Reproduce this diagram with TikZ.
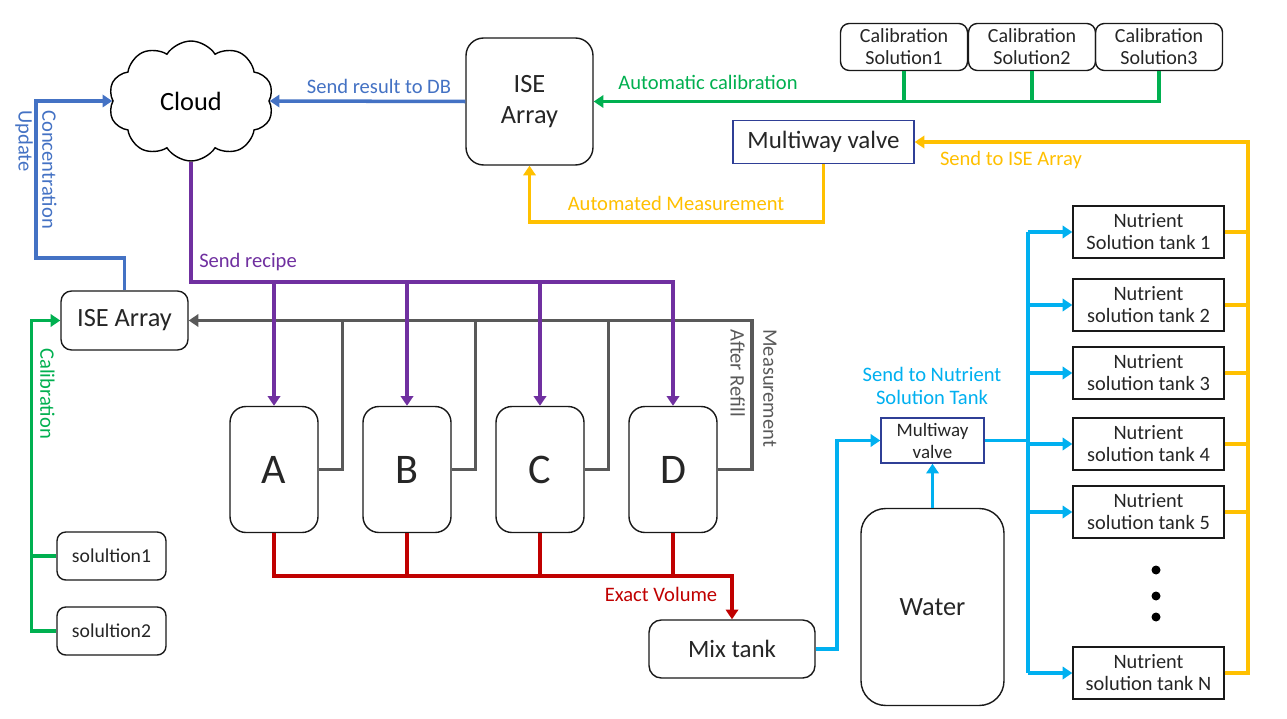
\documentclass[tikz,border=0pt]{standalone}
\usepackage{fontspec}
\setmainfont{Carlito}
\usetikzlibrary{arrows.meta,shapes.symbols}
\definecolor{lnblue}{HTML}{4472C4}
\definecolor{lngreen}{HTML}{00B050}
\definecolor{lnyellow}{HTML}{FFC000}
\definecolor{lnpurple}{HTML}{7030A0}
\definecolor{lngray}{HTML}{595959}
\definecolor{lnred}{HTML}{C00000}
\definecolor{lncyan}{HTML}{00B0F0}
\definecolor{valveblue}{HTML}{2F3F96}
\definecolor{txt}{HTML}{262626}

\begin{document}
\begin{tikzpicture}
  [x=0.02cm,y=-0.02cm,
   box/.style={draw=black!90,line width=0.8pt,rounded corners=5pt,align=center,text=txt,inner sep=1pt},
   tank/.style={draw=black!90,line width=0.8pt,align=center,text=txt,inner sep=1pt,
     minimum width=3.02cm,minimum height=1.04cm,font=\fontsize{11.6}{12.5}\selectfont},
   valve/.style={draw=valveblue,line width=0.8pt,align=center,text=txt,inner sep=1pt},
   pipe/.style={line width=2pt},
   flow/.style={pipe,-{Triangle[length=5.5pt,width=7pt]}},
   lbl/.style={font=\fontsize{11.7}{13.5}\selectfont,inner sep=0pt}]
  \useasboundingbox (0,0) rectangle (1287,719);
  \fill[white] (0,0) rectangle (1287,719);

  % cloud and top row
  \node[cloud,draw=black,line width=0.8pt,cloud puffs=10,cloud puff arc=115,aspect=1.5,
    minimum width=3.3cm,minimum height=2.4cm,font=\fontsize{15}{18}\selectfont] (cloud) at (191,101) {Cloud};
  \node[box,rounded corners=10pt,minimum width=2.54cm,minimum height=2.54cm,
    font=\fontsize{15}{17.6}\selectfont] (iseTop) at (529.5,101.5) {ISE\\Array};
  \node[box,minimum width=2.54cm,minimum height=0.94cm,font=\fontsize{11.4}{12.5}\selectfont] (cal1) at (904,47) {Calibration\\Solution1};
  \node[box,minimum width=2.54cm,minimum height=0.94cm,font=\fontsize{11.4}{12.5}\selectfont] (cal2) at (1032,47) {Calibration\\Solution2};
  \node[box,minimum width=2.54cm,minimum height=0.94cm,font=\fontsize{11.4}{12.5}\selectfont] (cal3) at (1159,47) {Calibration\\Solution3};
  \node[valve,minimum width=3.62cm,minimum height=0.86cm,font=\fontsize{14.2}{16}\selectfont] (valveTop) at (823.5,142) {Multiway valve};

  % left side
  \node[box,rounded corners=6pt,minimum width=2.54cm,minimum height=1.18cm,font=\fontsize{15}{18}\selectfont] (iseLeft) at (124.5,320.5) {ISE Array};
  \node[box,minimum width=2.18cm,minimum height=0.96cm,font=\fontsize{11.2}{13}\selectfont] (sol1) at (111.5,556) {solultion1};
  \node[box,minimum width=2.18cm,minimum height=0.96cm,font=\fontsize{11.2}{13}\selectfont] (sol2) at (111.5,631) {solultion2};

  % stock tanks
  \node[box,rounded corners=9pt,minimum width=1.76cm,minimum height=2.52cm,font=\fontsize{24}{28}\selectfont] (A) at (274,469.5) {A};
  \node[box,rounded corners=9pt,minimum width=1.76cm,minimum height=2.52cm,font=\fontsize{24}{28}\selectfont] (B) at (407,469.5) {B};
  \node[box,rounded corners=9pt,minimum width=1.76cm,minimum height=2.52cm,font=\fontsize{24}{28}\selectfont] (C) at (540,469.5) {C};
  \node[box,rounded corners=9pt,minimum width=1.76cm,minimum height=2.52cm,font=\fontsize{24}{28}\selectfont] (D) at (673,469.5) {D};
  \node[box,rounded corners=7pt,minimum width=3.32cm,minimum height=1.16cm,font=\fontsize{14.2}{17}\selectfont] (mix) at (732,649) {Mix tank};

  % water and nutrient tanks
  \node[valve,minimum width=2.06cm,minimum height=0.9cm,font=\fontsize{10.8}{12.5}\selectfont] (valve2) at (932.5,440.5) {Multiway\\valve};
  \node[box,rounded corners=14pt,minimum width=2.86cm,minimum height=3.94cm,font=\fontsize{15}{18}\selectfont] (water) at (932.5,607) {Water};
  \node[tank] (tank1) at (1148.5,232) {Nutrient\\Solution tank 1};
  \node[tank] (tank2) at (1148.5,305) {Nutrient\\solution tank 2};
  \node[tank] (tank3) at (1148.5,373) {Nutrient\\solution tank 3};
  \node[tank] (tank4) at (1148.5,444) {Nutrient\\solution tank 4};
  \node[tank] (tank5) at (1148.5,512) {Nutrient\\solution tank 5};
  \node[tank] (tankN) at (1148.5,673) {Nutrient\\solution tank N};
  \foreach \y in {570,596,617}
    \fill[black] (1156,\y) circle (0.09cm);

  % labels
  \node[lbl,text=lnblue] (lblDB) at (379,86) {Send result to DB};
  \node[lbl,text=lngreen] (lblAuto) at (708,82) {Automatic calibration};
  \node[lbl,text=lnyellow] (lblIse) at (1011,160) {Send to ISE Array};
  \node[lbl,text=lnyellow] (lblMeas) at (676,203) {Automated Measurement};
  \node[lbl,text=lnpurple] (lblRecipe) at (248,262) {Send recipe};
  \node[lbl,text=lnred] (lblVol) at (661,594) {Exact Volume};
  \node[lbl,text=lncyan,align=center] (lblSend) at (932,386) {Send to Nutrient\\Solution Tank};
  \node[lbl,text=lnblue,rotate=-90,anchor=north west,align=left] (lblConc) at (57,110) {Concentration\\Update};
  \node[lbl,text=lngreen,rotate=-90,anchor=north west] (lblCal) at (55,348) {Calibration};
  \node[lbl,text=lngray,rotate=-90,anchor=north west,align=left,
    font=\fontsize{11.7}{18.7}\selectfont] (lblRefill) at (777,329) {Measurement\\After Refill};

  % connectors
  \coordinate (yRise) at (1248,142);
  \coordinate (cUp) at (36,258);
  \coordinate (recipe) at (191,282);
  \coordinate (meas) at (752,320.5);
  \coordinate (vol) at (732,576);
  \coordinate (cyUp) at (837,440.5);
  \coordinate (dist) at (1028,440.5);

  \draw[flow,lnblue] (iseTop.west) -- (cloud.east);
  \draw[flow,lnblue] (iseLeft.north) |- (cUp) |- (cloud.west);

  \draw[flow,lngreen] (cal3.south) |- (iseTop.east);
  \foreach \c in {cal1,cal2}
    \draw[pipe,lngreen] (\c.south) -- (\c.south |- iseTop.east);
  \draw[flow,lngreen] (sol2.west) -- ++(-25,0) |- (iseLeft.west);
  \draw[pipe,lngreen] (sol1.west) -- ++(-25,0);

  \draw[flow,lnyellow] (tankN.east) -| (yRise) -- (valveTop.east);
  \foreach \t in {tank1,tank2,tank3,tank4,tank5}
    \draw[pipe,lnyellow] (\t.east) -- (\t.east -| yRise);
  \draw[flow,lnyellow] (valveTop.south) -- ++(0,58) -| (iseTop.south);

  \draw[flow,lngray] (D.east) -| (meas) -- (iseLeft.east);
  \foreach \t in {A,B,C}
    \draw[pipe,lngray] (\t.east) -- ++(24,0) -- ++(0,-149);

  \draw[flow,lnpurple] (cloud.south) -- (recipe) -| (D.north);
  \foreach \t in {A,B,C}
    \draw[flow,lnpurple] (recipe -| \t.north) -- (\t.north);

  \draw[flow,lnred] (A.south) |- (vol) -- (mix.north);
  \foreach \t in {B,C,D}
    \draw[pipe,lnred] (\t.south) -- (\t.south |- vol);

  \draw[flow,lncyan] (mix.east) -| (cyUp) -- (valve2.west);
  \draw[flow,lncyan] (water.north) -- (valve2.south);
  \draw[pipe,lncyan] (valve2.east) -- (dist);
  \draw[pipe,lncyan] (tank1.west -| dist) -- (tankN.west -| dist);
  \foreach \t in {tank1,tank2,tank3,tank4,tank5,tankN}
    \draw[flow,lncyan] (\t.west -| dist) -- (\t.west);

\end{tikzpicture}
\end{document}
